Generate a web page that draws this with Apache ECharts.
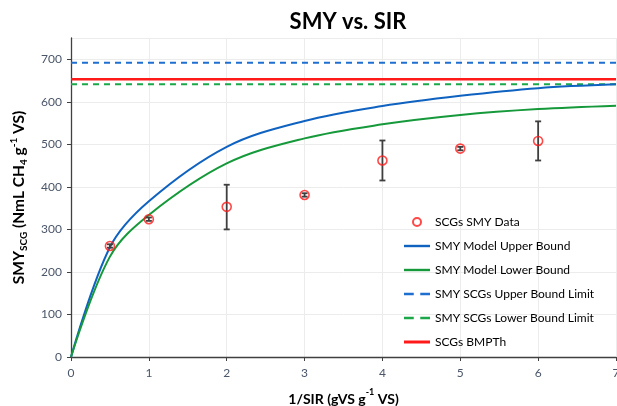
<!DOCTYPE html>
<html>
<head>
<meta charset="utf-8">
<script src="https://cdn.jsdelivr.net/npm/echarts@6/dist/echarts.min.js"></script>
<style>html,body{margin:0;padding:0;background:#fff}#c{width:617px;height:406px}</style>
</head>
<body>
<div id="c"></div>
<script>
// Data
var dataX = [0.5, 1, 2, 3, 4, 5, 6];
var dataY = [261, 324, 353, 381, 462, 490, 508];
var errLow = [257, 320, 300, 377, 415, 486, 462];
var errHigh = [265, 328, 405, 385, 509, 494, 554];

var modelX = [0, 0.5, 1, 2, 3, 4, 5, 6, 7];
var upperModel = [0, 258, 366, 494, 555, 590, 614, 632, 641];
var lowerModel = [0, 236, 334, 455, 514, 547, 569, 583, 591];

var limitX = [0, 7];
var upperLimit = 692;
var lowerLimit = 641;
var bmpth = 653;

var xTicks = [0, 1, 2, 3, 4, 5, 6, 7];

function pairs(xs, ys) { return xs.map(function (x, i) { return [x, ys[i]]; }); }
function flat(xs, v) { return xs.map(function (x) { return [x, v]; }); }

var chart = echarts.init(document.getElementById('c'));
var font = 'Lato, "Open Sans", sans-serif';
var labelColor = '#4b5669';
var solidIcon = 'path://M0,0H26V2.4H0Z';
var dashIcon = 'path://M0,0H9V2.4H0Z M15,0H24V2.4H15Z';

chart.setOption({
  animation: false,
  textStyle: { fontFamily: font },
  title: {
    text: 'SMY vs. SIR',
    left: 343, top: 6, textAlign: 'center',
    textStyle: { fontSize: 22, fontWeight: 'bold', color: '#000', fontFamily: font }
  },
  grid: { left: 71, right: 1, top: 38, bottom: 49, outerBoundsMode: 'none', containLabel: false },
  legend: {
    orient: 'vertical',
    left: 399, top: 210,
    itemWidth: 26, itemHeight: 8, itemGap: 10,
    textStyle: { fontSize: 12, color: '#000', fontFamily: font, lineHeight: 14 },
    data: [
      { name: 'SCGs SMY Data' },
      { name: 'SMY Model Upper Bound', icon: solidIcon },
      { name: 'SMY Model Lower Bound', icon: solidIcon },
      { name: 'SMY SCGs Upper Bound Limit', icon: dashIcon },
      { name: 'SMY SCGs Lower Bound Limit', icon: dashIcon },
      { name: 'SCGs BMPTh', icon: 'path://M0,0H26V3H0Z' }
    ]
  },
  xAxis: {
    type: 'value', min: 0, max: 7, interval: 1,
    name: '{m|1/SIR (gVS g}{sup|-1}{m| VS)}',
    nameLocation: 'middle', nameGap: 31,
    nameTextStyle: {
      rich: {
        m: { fontSize: 14, fontWeight: 'bold', color: '#000', fontFamily: font, lineHeight: 18, verticalAlign: 'bottom' },
        sup: { fontSize: 9, fontWeight: 'bold', color: '#000', fontFamily: font, lineHeight: 18, verticalAlign: 'top', padding: [0, 0, 3, 0] }
      }
    },
    axisLine: { show: true, lineStyle: { color: '#404040', width: 1.3 } },
    axisTick: { show: true, length: 4, lineStyle: { color: '#404040' } },
    axisLabel: { fontSize: 12, color: labelColor, margin: 10,
      formatter: function (v) { return xTicks.indexOf(v) >= 0 ? String(v) : ''; } },
    splitLine: { show: true, lineStyle: { color: '#ececec', width: 1 } }
  },
  yAxis: {
    type: 'value', min: 0, max: 750, interval: 100,
    name: '{m|SMY}{sub|SCG}{m| (NmL CH}{sub|4}{m| g}{sup|-1}{m| VS)}',
    nameLocation: 'middle', nameGap: 42, nameRotate: 90,
    nameTextStyle: {
      rich: {
        m: { fontSize: 15.5, fontWeight: 'bold', color: '#000', fontFamily: font, lineHeight: 20, verticalAlign: 'middle' },
        sub: { fontSize: 10, fontWeight: 'bold', color: '#000', fontFamily: font, lineHeight: 20, verticalAlign: 'bottom', padding: [5, 0, 0, 0] },
        sup: { fontSize: 10, fontWeight: 'bold', color: '#000', fontFamily: font, lineHeight: 20, verticalAlign: 'top', padding: [0, 0, 4, 0] }
      }
    },
    axisLine: { show: true, lineStyle: { color: '#404040', width: 1.3 } },
    axisTick: { show: true, length: 4, lineStyle: { color: '#404040' } },
    axisLabel: { fontSize: 12, color: labelColor, margin: 9, showMaxLabel: false },
    splitLine: { show: true, lineStyle: { color: '#ececec', width: 1 } }
  },
  series: [
    {
      name: 'SMY SCGs Upper Bound Limit', type: 'line', symbol: 'none',
      data: flat(limitX, upperLimit),
      lineStyle: { color: '#1f6fd0', width: 2, type: [6, 5] },
      itemStyle: { color: '#1f6fd0' }, z: 2
    },
    {
      name: 'SMY SCGs Lower Bound Limit', type: 'line', symbol: 'none',
      data: flat(limitX, lowerLimit),
      lineStyle: { color: '#1aa84a', width: 2, type: [6, 5] },
      itemStyle: { color: '#1aa84a' }, z: 2
    },
    {
      name: 'SCGs BMPTh', type: 'line', symbol: 'none',
      data: flat(limitX, bmpth),
      lineStyle: { color: '#ff1a1a', width: 2.5 },
      itemStyle: { color: '#ff1a1a' }, z: 2
    },
    {
      name: 'SMY Model Upper Bound', type: 'line', symbol: 'none', smooth: 0.35,
      data: pairs(modelX, upperModel),
      lineStyle: { color: '#0f62c0', width: 2 },
      itemStyle: { color: '#0f62c0' }, z: 3
    },
    {
      name: 'SMY Model Lower Bound', type: 'line', symbol: 'none', smooth: 0.35,
      data: pairs(modelX, lowerModel),
      lineStyle: { color: '#15993a', width: 2 },
      itemStyle: { color: '#15993a' }, z: 3
    },
    {
      name: 'err', type: 'custom', z: 4,
      data: dataX.map(function (x, i) { return [x, errLow[i], errHigh[i]]; }),
      renderItem: function (params, api) {
        var lo = api.coord([api.value(0), api.value(1)]);
        var hi = api.coord([api.value(0), api.value(2)]);
        var w = 3;
        var st = { stroke: '#3f3f3f', lineWidth: 1.8 };
        return {
          type: 'group', children: [
            { type: 'line', shape: { x1: lo[0], y1: lo[1], x2: hi[0], y2: hi[1] }, style: st },
            { type: 'line', shape: { x1: lo[0] - w, y1: lo[1], x2: lo[0] + w, y2: lo[1] }, style: st },
            { type: 'line', shape: { x1: hi[0] - w, y1: hi[1], x2: hi[0] + w, y2: hi[1] }, style: st }
          ]
        };
      }
    },
    {
      name: 'SCGs SMY Data', type: 'scatter', symbol: 'circle', symbolSize: 9, z: 5,
      data: pairs(dataX, dataY),
      itemStyle: { color: 'rgba(255,255,255,0)', borderColor: '#ff1a1a', borderWidth: 1.6 }
    }
  ]
});
</script>
</body>
</html>
